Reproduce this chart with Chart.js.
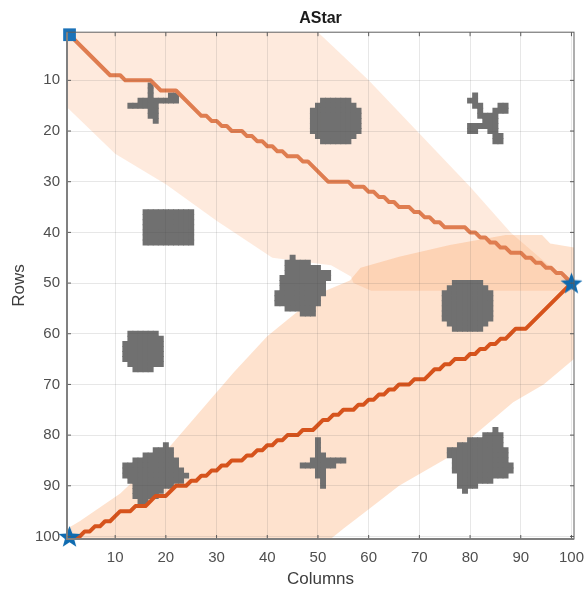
<!DOCTYPE html>
<html>
<head>
<meta charset="utf-8">
<title>AStar</title>
<script src="https://cdn.jsdelivr.net/npm/chart.js@4"></script>
<style>
  html, body { margin: 0; padding: 0; background: #fff; }
  canvas { display: block; filter: blur(0.5px); }
</style>
</head>
<body>
<canvas id="astar" width="584" height="590"></canvas>
<script>
var colTicks = [10, 20, 30, 40, 50, 60, 70, 80, 90, 100];
var rowTicks = [10, 20, 30, 40, 50, 60, 70, 80, 90, 100];

var startPoint = [[1, 1]];
var goalPoints = [[100, 50], [1, 100]];

// [coluna, linha]
var upperPath = [[1,1],[9,9],[11,9],[12,10],[17,10],[19,12],[22,12],[27,17],[28,17],[29,18],[30,18],[31,19],[32,19],[33,20],[35,20],[36,21],[37,21],[38,22],[39,22],[40,23],[41,23],[42,24],[43,24],[44,25],[46,25],[47,26],[48,26],[52,30],[56,30],[57,31],[59,31],[60,32],[61,32],[62,33],[63,33],[64,34],[65,34],[66,35],[68,35],[69,36],[70,36],[71,37],[72,37],[73,38],[74,38],[75,39],[79,39],[80,40],[81,40],[82,41],[83,41],[84,42],[85,42],[86,43],[87,43],[88,44],[90,44],[91,45],[92,45],[93,46],[94,46],[95,47],[96,47],[97,48],[98,48],[99,49],[100,50]];
var lowerPath = [[1,100],[3,100],[4,99],[5,99],[6,98],[7,98],[8,97],[9,97],[10,96],[11,95],[13,95],[14,94],[16,94],[18,92],[20,92],[22,90],[24,90],[25,89],[26,89],[27,88],[28,88],[29,87],[30,87],[31,86],[32,86],[33,85],[35,85],[36,84],[37,84],[38,83],[39,83],[40,82],[41,82],[42,81],[43,81],[44,80],[46,80],[47,79],[49,79],[50,78],[51,77],[52,77],[53,76],[54,76],[55,75],[57,75],[58,74],[59,74],[60,73],[61,73],[62,72],[63,72],[64,71],[65,71],[66,70],[68,70],[69,69],[71,69],[72,68],[73,67],[74,67],[75,66],[76,66],[77,65],[79,65],[80,64],[81,64],[82,63],[83,63],[84,62],[85,62],[86,61],[87,61],[88,60],[89,59],[91,59],[100,50]];

var upperBand = [[0.5,0.5],[50,0.5],[60,10],[70,20.5],[80,31],[88,40],[99,49.5],[100,50],[99,51.5],[60.5,51.5],[57,50],[56.5,48.7],[52.6,46.5],[41,45],[30,37.7],[20,30.5],[10,24.5],[0.5,15.3],[0.5,0.5]];
var lowerBand = [[0.5,100.5],[0.5,98.5],[3,97],[11,91.5],[21,82],[33.5,67.5],[40,60.5],[45.5,56],[51.5,51.5],[56.3,49.5],[58.4,47],[66,44.8],[76,42.5],[87,40.5],[94.2,40.5],[95.8,42.2],[100.5,43],[100.5,65],[94.5,70],[88.5,73.5],[75.5,84.5],[66,90],[59.5,95],[55,98.5],[52.5,100.5],[0.5,100.5]];

// obstaculos: [linha, coluna inicial, coluna final]
var crossTop = [[11,17,17],[12,17,17],[13,17,17],[13,21,22],[14,15,22],[15,13,18],[16,17,18],[17,17,18],[18,18,18]];
var rectLeft = [[36,16,25],[37,16,25],[38,16,25],[39,16,25],[40,16,25],[41,16,25],[42,16,25]];
var circleTop = [[14,51,56],[15,50,57],[16,49,58],[17,49,58],[18,49,58],[19,49,58],[20,49,58],[21,50,57],[22,51,56]];
var crossRight = [[13,81,81],[14,80,81],[15,81,82],[15,86,87],[16,82,82],[16,85,87],[17,82,85],[18,83,85],[19,80,85],[20,80,81],[20,84,85],[21,85,86],[22,85,86]];
var blobCenter = [[45,45,45],[46,44,48],[47,44,50],[48,44,52],[49,43,52],[50,43,51],[51,43,51],[52,42,51],[53,42,50],[54,42,50],[55,44,49],[56,47,49]];
var circleRight = [[50,77,82],[51,76,83],[52,75,84],[53,75,84],[54,75,84],[55,75,84],[56,75,84],[57,75,84],[58,76,83],[59,77,82]];
var circleLeft = [[60,13,18],[61,13,19],[62,12,19],[63,12,19],[64,12,19],[65,12,19],[66,13,19],[67,14,17]];
var blobLeft = [[82,20,20],[83,18,21],[84,16,21],[85,14,22],[86,12,22],[87,12,23],[88,12,24],[89,13,23],[90,14,21],[91,14,19],[92,14,18],[93,15,16]];
var plusBottom = [[81,50,50],[82,50,50],[83,50,50],[84,50,51],[85,49,55],[86,47,53],[87,50,51],[88,50,51],[89,51,51],[90,51,51]];
var blobRight = [[79,85,85],[80,83,86],[81,80,86],[82,78,86],[83,76,87],[84,76,87],[85,77,87],[86,77,88],[87,77,88],[88,78,87],[89,78,84],[90,78,81],[91,79,79]];

var obstacles = [crossTop, rectLeft, circleTop, crossRight, blobCenter, circleRight, circleLeft, blobLeft, plusBottom, blobRight];

function toXY(pairs) {
    return pairs.map(function (p) { return { x: p[0], y: p[1] }; });
}

function obstacleCells() {
    var cells = [];
    obstacles.forEach(function (runs) {
        runs.forEach(function (run) {
            for (var c = run[1]; c <= run[2]; c++) {
                cells.push({ x: c, y: run[0] });
            }
        });
    });
    return cells;
}

// estrela de 5 pontas (o "star" do Chart.js nao e preenchido)
function starImage(size, color) {
    var cv = document.createElement("canvas");
    cv.width = size;
    cv.height = size;
    var ctx = cv.getContext("2d");
    var r = size / 2;
    ctx.fillStyle = color;
    ctx.beginPath();
    for (var i = 0; i < 10; i++) {
        var rad = i % 2 === 0 ? r : r * 0.42;
        var a = -Math.PI / 2 + i * Math.PI / 5;
        ctx.lineTo(r + rad * Math.cos(a), r + 1 + rad * Math.sin(a));
    }
    ctx.closePath();
    ctx.fill();
    return cv;
}

// caixa do eixo e marcas para dentro, estilo MATLAB
var boxPlugin = {
    id: "axesBox",
    afterDatasetsDraw: function (chart) {
        var a = chart.chartArea, ctx = chart.ctx;
        ctx.save();
        ctx.strokeStyle = "#5e5e5e";
        ctx.lineWidth = 1;
        ctx.strokeRect(a.left, a.top, a.right - a.left, a.bottom - a.top);
        ctx.beginPath();
        colTicks.forEach(function (v) {
            var x = chart.scales.x.getPixelForValue(v);
            ctx.moveTo(x, a.bottom); ctx.lineTo(x, a.bottom - 4);
            ctx.moveTo(x, a.top); ctx.lineTo(x, a.top + 4);
        });
        rowTicks.forEach(function (v) {
            var y = chart.scales.y.getPixelForValue(v);
            ctx.moveTo(a.left, y); ctx.lineTo(a.left + 4, y);
            ctx.moveTo(a.right, y); ctx.lineTo(a.right - 4, y);
        });
        ctx.stroke();
        // esquerda e base mais grossas
        ctx.strokeStyle = "#808080";
        ctx.lineWidth = 2;
        ctx.beginPath();
        ctx.moveTo(a.left, a.top);
        ctx.lineTo(a.left, a.bottom);
        ctx.lineTo(a.right, a.bottom);
        ctx.stroke();
        ctx.restore();
    }
};

var grid = { color: "rgba(70,70,70,0.13)", lineWidth: 1, drawTicks: false, z: 1 };
var tickFont = { family: "'Liberation Sans', Arial, sans-serif", size: 15 };
var labelFont = { family: "'Liberation Sans', Arial, sans-serif", size: 17 };

new Chart(document.getElementById("astar").getContext("2d"), {
    type: "scatter",
    plugins: [boxPlugin],
    data: {
        datasets: [
            { data: toXY(upperBand), type: "line", showLine: true, fill: "shape", backgroundColor: "rgba(250,160,100,0.22)", borderWidth: 0, pointRadius: 0, tension: 0, order: 6 },
            { data: toXY(lowerBand), type: "line", showLine: true, fill: "shape", backgroundColor: "rgba(250,150,80,0.28)", borderWidth: 0, pointRadius: 0, tension: 0, order: 5 },
            { data: obstacleCells(), pointStyle: "rect", pointRadius: 4.2, pointBorderWidth: 0, pointBackgroundColor: "#707070", order: 4 },
            { data: toXY(upperPath), type: "line", showLine: true, fill: false, borderColor: "#df7d50", borderWidth: 4, borderJoinStyle: "round", pointRadius: 0, tension: 0, order: 3 },
            { data: toXY(lowerPath), type: "line", showLine: true, fill: false, borderColor: "#d6531c", borderWidth: 4, borderJoinStyle: "round", pointRadius: 0, tension: 0, order: 2 },
            { data: toXY(startPoint), pointStyle: "rect", pointRadius: 9, pointBorderWidth: 0, pointBackgroundColor: "#1b72b8", clip: false, order: 1 },
            { data: toXY(goalPoints), pointStyle: starImage(23, "#0f6bb0"), clip: false, order: 0 }
        ]
    },
    options: {
        responsive: false,
        animation: false,
        events: [],
        layout: { padding: { left: 0, right: 10, top: 0, bottom: 0 } },
        plugins: {
            legend: { display: false },
            tooltip: { enabled: false },
            title: {
                display: true,
                fullSize: false,
                text: "AStar",
                color: "#1a1a1a",
                font: { family: tickFont.family, size: 16, weight: "bold" },
                padding: { top: 9, bottom: 4 }
            }
        },
        scales: {
            x: {
                type: "linear",
                min: 0.5,
                max: 100.5,
                afterBuildTicks: function (scale) {
                    scale.ticks = colTicks.map(function (v) { return { value: v }; });
                },
                afterFit: function (scale) {
                    scale.height = 51;
                    scale.paddingLeft = 0;
                    scale.paddingRight = 0;
                },
                grid: grid,
                border: { display: false },
                ticks: { color: "#4f4f4f", font: tickFont, padding: 10, maxRotation: 0, autoSkip: false },
                title: { display: true, text: "Columns", color: "#3d3d3d", font: labelFont, padding: { top: 1, bottom: 0 } }
            },
            y: {
                type: "linear",
                reverse: true,
                min: 0.5,
                max: 100.5,
                afterBuildTicks: function (scale) {
                    scale.ticks = rowTicks.map(function (v) { return { value: v }; });
                },
                afterFit: function (scale) {
                    scale.width = 67;
                    scale.paddingTop = 0;
                    scale.paddingBottom = 0;
                },
                grid: grid,
                border: { display: false },
                ticks: { color: "#4f4f4f", font: tickFont, padding: 7, autoSkip: false },
                title: { display: true, text: "Rows", color: "#3d3d3d", font: labelFont, padding: { top: 9, bottom: 0 } }
            }
        }
    }
});
</script>
</body>
</html>
